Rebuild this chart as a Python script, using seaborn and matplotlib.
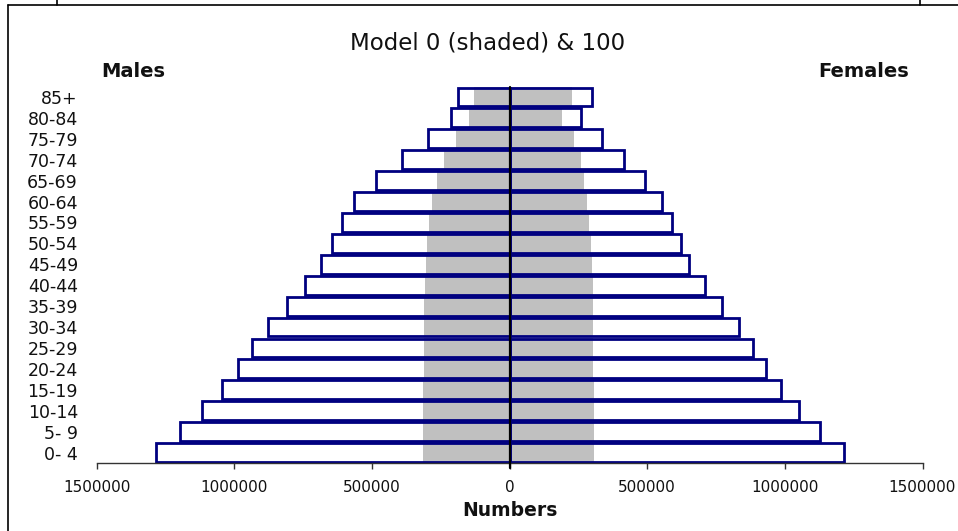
import matplotlib
matplotlib.use("Agg")
import matplotlib.pyplot as plt
from matplotlib.lines import Line2D
from matplotlib.ticker import FixedLocator, FixedFormatter
import seaborn as sns
import pandas as pd

# ---- data (top row first) ----
ages = ["85+", "80-84", "75-79", "70-74", "65-69", "60-64", "55-59", "50-54", "45-49",
        "40-44", "35-39", "30-34", "25-29", "20-24", "15-19", "10-14", "5- 9", "0- 4"]
males_100 = [188000, 212000, 297000, 392000, 485000, 565000, 608000, 644000, 684000,
             743000, 809000, 878000, 936000, 987000, 1044000, 1117000, 1196000, 1283000]
females_100 = [300000, 259000, 334000, 415000, 492000, 553000, 590000, 622000, 651000,
               709000, 771000, 833000, 884000, 931000, 986000, 1051000, 1127000, 1214000]
males_0 = [130000, 148000, 195000, 239000, 264000, 283000, 293000, 301000, 303000,
           309000, 310000, 311000, 312000, 312000, 313000, 313000, 314000, 314000]
females_0 = [228000, 190000, 235000, 259000, 271000, 282000, 289000, 296000, 300000,
             302000, 303000, 303000, 304000, 304000, 305000, 305000, 305000, 305000]
xticks = [-1500000, -1000000, -500000, 0, 500000, 1000000, 1500000]
xticklabels = ["1500000", "1000000", "500000", "0", "500000", "1000000", "1500000"]

df = pd.DataFrame({
    "age": ages,
    "m100": [-v for v in males_100],
    "f100": females_100,
    "m0": [-v for v in males_0],
    "f0": females_0,
})

sns.set_theme(style="white")
plt.rcParams["font.family"] = ["DejaVu Sans"]

W, H = 958, 531
fig = plt.figure(figsize=(W / 100, H / 100), dpi=100)
left, right, bottom, top = 96.7, 922.5, 463.0, 86.5
ax = fig.add_axes([left / W, 1 - bottom / H, (right - left) / W, (bottom - top) / H])

NAVY = "#000080"
GRAY = "#C0C0C0"
bw = 0.9

# shaded model 0
for col in ["m0", "f0"]:
    sns.barplot(data=df, x=col, y="age", order=ages, orient="h", color=GRAY,
                width=0.97, errorbar=None, ax=ax, linewidth=0, saturation=1)
# outlined model 100
for col in ["m100", "f100"]:
    sns.barplot(data=df, x=col, y="age", order=ages, orient="h",
                width=bw, errorbar=None, ax=ax, facecolor="none",
                edgecolor=NAVY, linewidth=2.0)

ax.set_xlim(-1500000, 1500000)
ax.set_ylim(len(ages) - 0.5, -0.5)
ax.axvline(0, ymin=-0.013, ymax=1, color="black", lw=1.6, clip_on=False, zorder=5)

ax.xaxis.set_major_locator(FixedLocator(xticks))
ax.xaxis.set_major_formatter(FixedFormatter(xticklabels))
ax.tick_params(axis="x", direction="out", length=4, width=1, color="#333333",
               pad=8.5, labelsize=11, labelcolor="#111111", bottom=True)
ax.tick_params(axis="y", length=0, pad=13.5, labelsize=12.5, labelcolor="#111111")
for s in ["top", "right", "left"]:
    ax.spines[s].set_visible(False)
ax.spines["bottom"].set_color("#333333")
ax.spines["bottom"].set_linewidth(1.0)
ax.set_xlabel("")
ax.set_ylabel("")
ax.set_facecolor("white")

# texts
fig.text(488 / W, 1 - 43 / H, "Model 0 (shaded) & 100", ha="center", va="center",
         fontsize=16.5, color="#111111", fontweight="medium")
fig.text(133 / W, 1 - 71 / H, "Males", ha="center", va="center", fontsize=14,
         fontweight="bold", color="#111111")
fig.text(864 / W, 1 - 71 / H, "Females", ha="center", va="center", fontsize=14,
         fontweight="bold", color="#111111")
fig.text(510 / W, 1 - 510 / H, "Numbers", ha="center", va="center", fontsize=13.5,
         fontweight="bold", color="#111111")

# frame lines
def fline(x0, y0, x1, y1):
    fig.add_artist(Line2D([x0 / W, x1 / W], [1 - y0 / H, 1 - y1 / H],
                          color="black", lw=1.2, transform=fig.transFigure))

fline(8, 5, W, 5)
fline(8, 5, 8, H)
fline(57, 0, 57, 5)
fline(920, 0, 920, 5)

fig.savefig("out.png", dpi=100, facecolor="white")
